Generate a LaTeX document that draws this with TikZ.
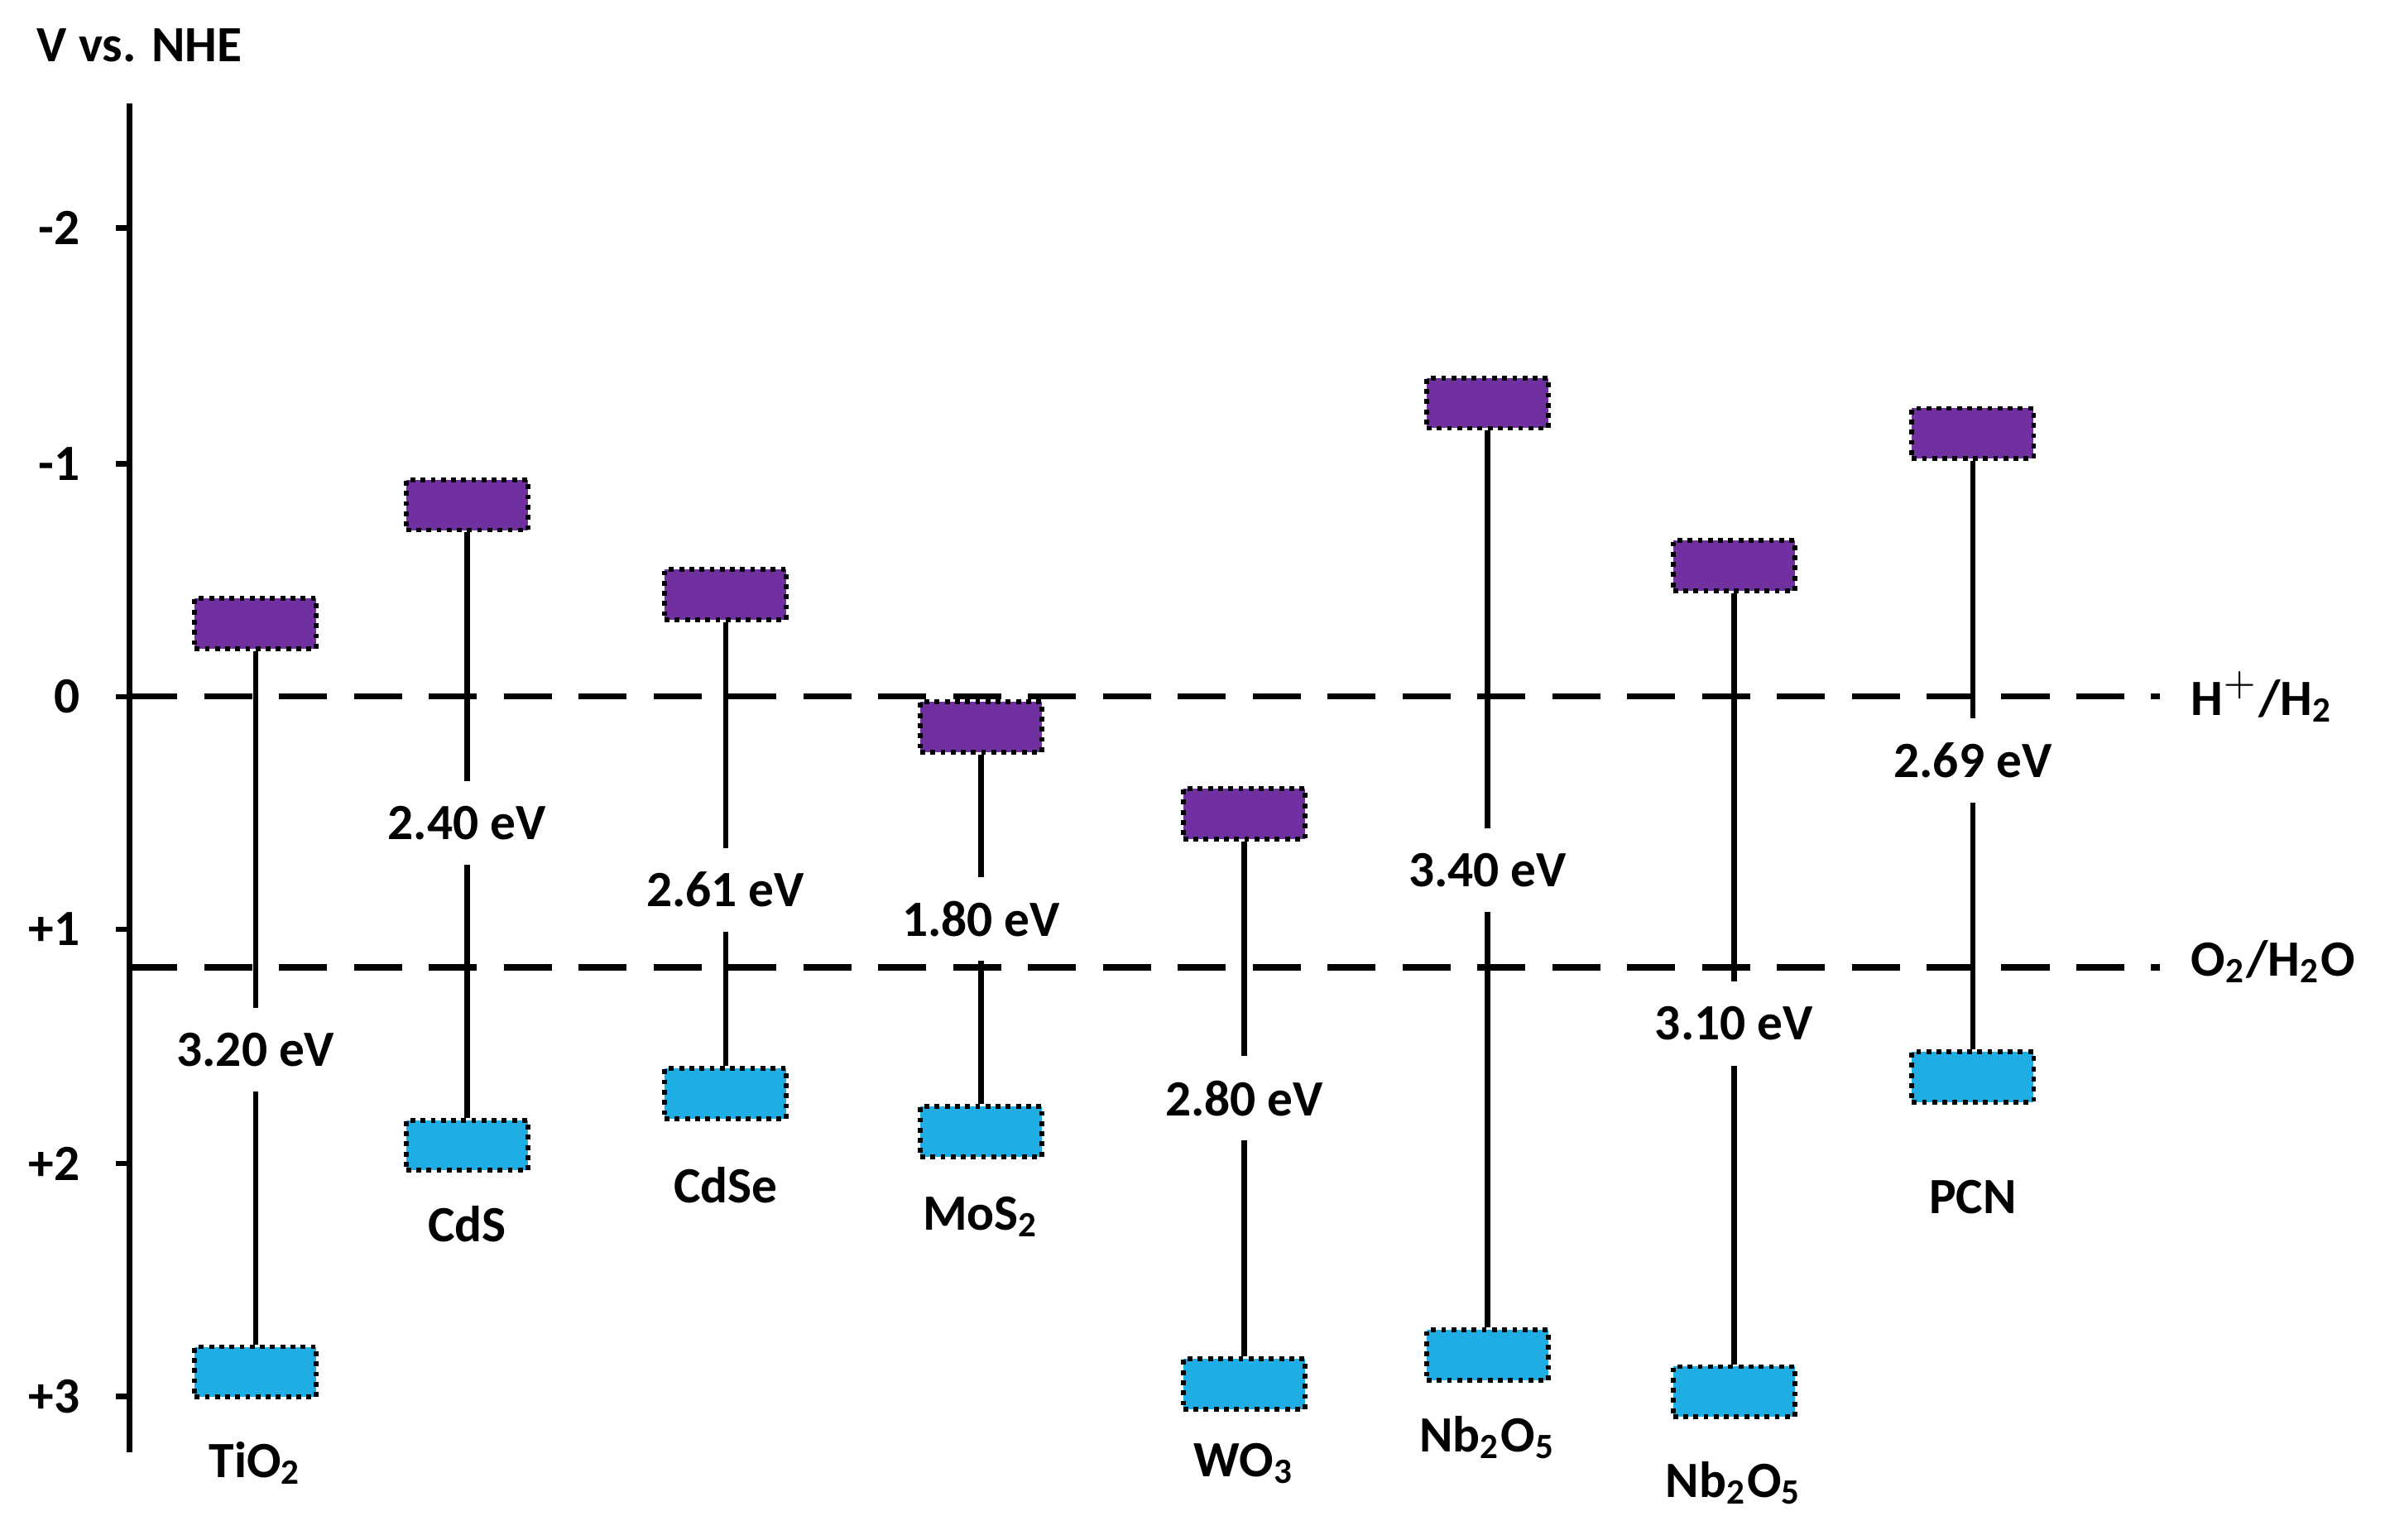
\documentclass[tikz,border=0pt]{standalone}
\usepackage{fontspec}
\setmainfont{Carlito}
\begin{document}
\begin{tikzpicture}[x=0.01cm,y=-0.01cm,font=\fontsize{9.5}{11}\selectfont\bfseries,
  cb/.style={draw=black,densely dotted,line width=0.9pt,fill={rgb,255:red,112;green,48;blue,160},minimum width=0.8cm,minimum height=0.33cm,inner sep=0pt},
  vb/.style={draw=black,densely dotted,line width=0.9pt,fill={rgb,255:red,30;green,174;blue,228},minimum width=0.8cm,minimum height=0.33cm,inner sep=0pt},
  gap/.style={fill=white,inner sep=2pt,minimum height=0.55cm},
  conn/.style={line width=1pt},
  refline/.style={line width=1.1pt,dash pattern=on 9pt off 5pt}]
\useasboundingbox (0,0) rectangle (1568,1012);
\node[anchor=west] (title) at (12,30) {V vs. NHE};
\coordinate (atop) at (85,68);
\coordinate (abot) at (85,955);
\draw[line width=1.1pt] (atop) -- (abot);
\foreach \v/\y/\t in {a/150/-2,b/305/-1,c/458/0,d/611/+1,e/765/+2,f/918/+3}{
  \coordinate (t\v) at (85,\y);
  \draw[line width=1pt] (t\v) -- ++(-9,0);
  \node[anchor=east] (l\v) at (65,\y) {\t};
}
\coordinate (h1) at (1420,458);
\coordinate (o0) at (85,636);
\coordinate (o1) at (1420,636);
\draw[refline] (tc) -- (h1);
\draw[refline] (o0) -- (o1);
\node[anchor=west] (hh) at (1428,458) {H$^{\mathbf{+}}$/H$_{\mathbf{2}}$};
\node[anchor=west] (oo) at (1428,632) {O$_{\mathbf{2}}$/H$_{\mathbf{2}}$O};
\foreach \n/\x/\c/\v/\g/\gy/\m/\my in {
  1/168/410/902/3.20 eV/690/TiO$_{\mathbf{2}}$/962,
  2/307/332/753/2.40 eV/541/CdS/805,
  3/477/391/719/2.61 eV/585/CdSe/779,
  4/645/478/744/1.80 eV/604/MoS$_{\mathbf{2}}$/800,
  5/818/535/910/2.80 eV/722/WO$_{\mathbf{3}}$/962,
  6/978/265/891/3.40 eV/572/Nb$_{\mathbf{2}}$O$_{\mathbf{5}}$/945,
  7/1140/372/915/3.10 eV/673/Nb$_{\mathbf{2}}$O$_{\mathbf{5}}$/975,
  8/1297/285/708/2.69 eV/500/PCN/787}{
  \node[cb] (c\n) at (\x,\c) {};
  \node[vb] (v\n) at (\x,\v) {};
  \draw[conn] (c\n.south) -- (v\n.north);
  \node[gap] (g\n) at (\x,\gy) {\g};
  \node (m\n) at (\x,\my) {\m};
}
\end{tikzpicture}
\end{document}
